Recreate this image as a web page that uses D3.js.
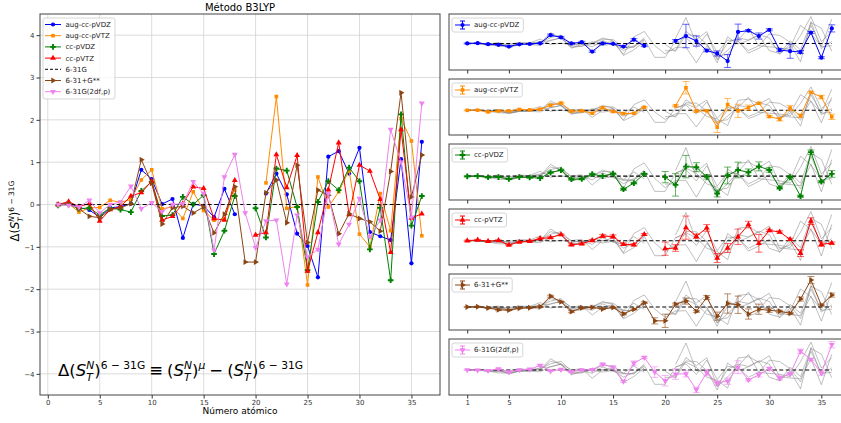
<!DOCTYPE html>
<html>
<head>
<meta charset="utf-8">
<script src="https://cdn.jsdelivr.net/npm/d3@7"></script>
<style>
  body { margin: 0; background: #fff; }
  text { font-family: "DejaVu Sans", sans-serif; }
</style>
</head>
<body>
<script>
(function(d3) {
  "use strict";

  /***** Data *****/
  var atomicNumber = [1, 2, 3, 4, 5, 6, 7, 8, 9, 10, 11, 12, 13, 14, 15, 16, 17, 18,
    19, 20, 21, 22, 23, 24, 25, 26, 27, 28, 29, 30, 31, 32, 33, 34, 35, 36];

  var augccpVDZ = [0, 0.03, -0.07, -0.13, -0.3, -0.08, -0.05, 0.02, 0.82, 0.6, 0.01, 0.13,
    -0.79, 0.01, -0.03, -0.3, 0.37, -0.23, null, null, 0.26, 0.73, 0.24, -0.69, -0.98, -1.72,
    1.13, 1.26, 0.73, 1.34, -0.65, -0.75, -0.84, 1.07, -1.39, 1.48];
  var augccpVTZ = [0, 0.02, -0.18, -0.08, -0.07, 0.1, 0.05, 0.12, 0.58, 0.82, -0.1, -0.06,
    -0.33, 0.3, -0.14, -0.37, -0.34, 0.34, null, null, 0.51, 2.55, -0.09, -0.05, -1.9, 0.65,
    -0.06, 0.3, 0.8, -0.7, -1.0, 0.26, -0.62, 2.03, 1.5, -0.74];
  var ccpVDZ = [-0.02, 0, -0.1, -0.08, -0.25, -0.08, -0.12, -0.18, 0.32, 0.54, -0.27, -0.25,
    0.18, 0, 0.22, -1.17, -0.62, 0.2, null, -0.09, -0.78, 0.85, 0.8, -0.06, -1.55, 0.06,
    0.55, 0.34, 0.87, 0.55, -1.06, -0.08, -1.79, 2.13, -0.5, 0.2];
  var ccpVTZ = [0, 0.07, -0.05, 0.02, -0.39, -0.12, -0.05, 0.2, 0.28, 0.55, -0.37, -0.28,
    0.02, 0.42, 0.38, -0.33, -0.37, 0.57, null, -0.72, -0.66, 1.18, 0.4, 1.16, -1.57, -0.66,
    0.35, 1.46, -0.24, 0.93, 0.79, 0.12, -1.13, 1.77, -0.32, -0.22];
  var b631G = [0, 0, 0, 0, 0, 0, 0, 0, 0, 0, 0, 0, 0, 0, 0, 0, 0, 0,
    0, 0, 0, 0, 0, 0, 0, 0, 0, 0, 0, 0, 0, 0, 0, 0, 0, 0];
  var b631pGss = [0, 0.02, -0.1, -0.28, -0.31, -0.12, -0.08, 0.02, 1.06, 0.5, -0.46, -0.08,
    -0.04, -0.2, -0.06, -0.67, -0.23, 0.42, -1.36, -1.36, 0.28, 0.58, -0.43, 0.93, -0.9, 0.34,
    0.22, -0.69, -0.22, -0.33, -0.41, -0.63, 0.78, 2.64, 0.18, 1.17];
  var b631G2dfp = [0, -0.02, -0.06, 0.1, -0.2, 0, 0.06, 0.43, -0.1, 0.04, -0.17, 0,
    0.02, 0.54, 0.26, -1.08, 0.65, 1.18, -0.2, -1.02, -0.39, -0.37, -1.88, -0.25, -1.24, -1.06,
    0.26, -0.94, -0.47, 0.14, -0.76, -0.37, 1.77, 1.0, -0.3, 2.39];

  // error bars (right-hand panels)
  var errAugccpVDZ = [0.05, 0.05, 0.05, 0.05, 0.05, 0.05, 0.05, 0.05, 0.1, 0.08, 0.08, 0.08,
    0.08, 0.08, 0.05, 0.08, 0.1, 0.08, null, null, 0.12, 1.15, 0.5, 0.12, 0.25, 0.63,
    0.77, 0.1, 0.3, 0.1, 0.15, 0.7, 0.15, 0.1, 0.1, 0.35];
  var errAugccpVTZ = [0.05, 0.05, 0.05, 0.05, 0.05, 0.05, 0.05, 0.08, 0.08, 0.08, 0.08, 0.08,
    0.08, 0.1, 0.08, 0.08, 0.05, 0.08, null, null, 0.1, 0.7, 0.1, 0.1, 0.6, 0.7,
    0.75, 0.3, 0.1, 0.1, 0.2, 0.3, 0.2, 0.1, 0.2, 0.3];
  var errCcpVDZ = [0.05, 0.05, 0.05, 0.05, 0.05, 0.05, 0.05, 0.05, 0.05, 0.08, 0.08, 0.08,
    0.08, 0.05, 0.05, 0.1, 0.08, 0.05, null, 0.5, 1.0, 1.0, 0.4, 0.2, 0.3, 0.75,
    0.7, 0.3, 0.4, 0.2, 0.1, 0.1, 0.1, 0.2, 0.1, 0.3];
  var errCcpVTZ = [0.05, 0.05, 0.05, 0.05, 0.05, 0.05, 0.05, 0.05, 0.08, 0.05, 0.08, 0.08,
    0.08, 0.15, 0.15, 0.1, 0.1, 0.08, null, 0.6, 0.3, 1.05, 0.2, 0.3, 0.4, 0.4,
    0.7, 0.3, 0.8, 0.1, 0.1, 0.1, 0.3, 0.3, 0.2, 0.1];
  var err631pGss = [0.05, 0.05, 0.05, 0.08, 0.05, 0.05, 0.05, 0.05, 0.1, 0.05, 0.1, 0.08,
    0.05, 0.05, 0.05, 0.1, 0.05, 0.08, 0.3, 0.65, 0.1, 0.3, 0.1, 0.2, 0.4, 0.95,
    0.85, 0.5, 0.5, 0.2, 0.1, 0.1, 0.2, 0.35, 0.1, 0.2];
  var err631G2dfp = [0.05, 0.05, 0.05, 0.05, 0.05, 0.05, 0.05, 0.08, 0.05, 0.05, 0.05, 0.05,
    0.05, 0.08, 0.08, 0.1, 0.2, 0.1, 0.5, 0.5, 0.5, 0.3, 0.25, 0.3, 0.2, 0.3,
    0.6, 0.1, 0.2, 0.1, 0.2, 0.1, 0.2, 0.1, 0.2, 0.3];

  var xTicksMain = [0, 5, 10, 15, 20, 25, 30, 35];
  var yTicksMain = [-4, -3, -2, -1, 0, 1, 2, 3, 4];
  var xTicksPanel = [1, 5, 10, 15, 20, 25, 30, 35];

  var series = [
    {name: "aug-cc-pVDZ", values: augccpVDZ, err: errAugccpVDZ, color: "#0000ff", marker: "o"},
    {name: "aug-cc-pVTZ", values: augccpVTZ, err: errAugccpVTZ, color: "#ff8c00", marker: "s"},
    {name: "cc-pVDZ", values: ccpVDZ, err: errCcpVDZ, color: "#008000", marker: "P"},
    {name: "cc-pVTZ", values: ccpVTZ, err: errCcpVTZ, color: "#ff0000", marker: "^"},
    {name: "6-31G", values: b631G, err: null, color: "#000000", marker: null},
    {name: "6-31+G**", values: b631pGss, err: err631pGss, color: "#8b4513", marker: ">"},
    {name: "6-31G(2df,p)", values: b631G2dfp, err: err631G2dfp, color: "#ee82ee", marker: "v"}
  ];
  series.forEach(function(s) {
    s.points = atomicNumber.map(function(n, i) { return [n, s.values[i], s.err ? s.err[i] : null]; });
  });

  /***** Helpers *****/
  var symbols = {
    "o": [d3.symbolCircle, 14, 0],
    "s": [d3.symbolSquare, 13, 0],
    "P": [d3.symbolCross, 18, 0],
    "^": [d3.symbolTriangle, 15, 0],
    ">": [d3.symbolTriangle, 15, 90],
    "v": [d3.symbolTriangle, 15, 180]
  };

  function drawMarkers(g, s, pts, x, y) {
    var sym = symbols[s.marker];
    g.selectAll(null)
      .data(pts.filter(function(d) { return d[1] != null; }))
      .enter().append("path")
      .attr("d", d3.symbol(sym[0], sym[1]))
      .attr("transform", function(d) { return "translate(" + x(d[0]) + "," + y(d[1]) + ") rotate(" + sym[2] + ")"; })
      .attr("fill", s.color);
  }

  // little mathtext: each piece is its own <text>, placed one after the other
  function mathText(g, tokens, size, gap) {
    var small = size * 0.65, cx = 0;
    function piece(str, fs, dy, italic) {
      var t = g.append("text").attr("x", cx).attr("y", dy)
        .attr("font-size", fs).attr("fill", "#000").text(str);
      if (italic) t.attr("font-style", "italic");
      return t.node().getComputedTextLength();
    }
    tokens.forEach(function(tok) {
      if (tok.gap) { cx += gap; return; }
      if (tok.stack) {
        var wa = piece(tok.stack[0], small, -size * 0.45, true);
        var wb = piece(tok.stack[1], small, size * 0.32, true);
        cx += Math.max(wa, wb);
      } else if (tok.sup) {
        cx += piece(tok.sup, small, -size * 0.45, tok.it);
      } else {
        cx += piece(tok.t, size, 0, tok.it);
      }
    });
    return cx;
  }

  var deltaS = [{t: "Δ("}, {t: "S", it: true}, {stack: ["N", "T"]}, {t: ")"}, {sup: "6 − 31G"}];
  var formula = deltaS.concat([{gap: 1}, {t: "≡"}, {gap: 1}, {t: "("}, {t: "S", it: true},
    {stack: ["N", "T"]}, {t: ")"}, {sup: "μ", it: true}, {gap: 1}, {t: "−"}, {gap: 1}, {t: "("},
    {t: "S", it: true}, {stack: ["N", "T"]}, {t: ")"}, {sup: "6 − 31G"}]);

  /***** SVG *****/
  var svg = d3.select("body").append("svg")
    .attr("width", 841)
    .attr("height", 423)
    .style("background", "#fff");

  /***** Main chart *****/
  var m = {left: 40, top: 14, right: 440, bottom: 395};
  var x = d3.scaleLinear().domain([-0.75, 37.75]).range([m.left, m.right]);
  var y = d3.scaleLinear().domain([-4.5, 4.5]).range([m.bottom, m.top]);

  svg.append("defs").append("clipPath").attr("id", "clip-main")
    .append("rect").attr("x", m.left).attr("y", m.top)
    .attr("width", m.right - m.left).attr("height", m.bottom - m.top);

  var mainG = svg.append("g");

  // grid
  mainG.selectAll(".gx").data(xTicksMain).enter().append("line")
    .attr("x1", x).attr("x2", x).attr("y1", m.top).attr("y2", m.bottom)
    .attr("stroke", "#d3d3d3").attr("stroke-width", 0.8);
  mainG.selectAll(".gy").data(yTicksMain).enter().append("line")
    .attr("y1", y).attr("y2", y).attr("x1", m.left).attr("x2", m.right)
    .attr("stroke", "#d3d3d3").attr("stroke-width", 0.8);

  var xAxis = mainG.append("g")
    .attr("transform", "translate(0," + m.bottom + ")")
    .call(d3.axisBottom(x).tickValues(xTicksMain).tickSize(3.5).tickPadding(2));
  var yAxis = mainG.append("g")
    .attr("transform", "translate(" + m.left + ",0)")
    .call(d3.axisLeft(y).tickValues(yTicksMain).tickSize(3.5).tickPadding(2));
  [xAxis, yAxis].forEach(function(a) {
    a.select(".domain").remove();
    a.selectAll("line").attr("stroke", "#333");
    a.selectAll("text").attr("font-size", 7).attr("fill", "#333").style("font-family", "DejaVu Sans");
  });

  var plot = mainG.append("g").attr("clip-path", "url(#clip-main)");
  var line = d3.line()
    .defined(function(d) { return d[1] != null; })
    .x(function(d) { return x(d[0]); })
    .y(function(d) { return y(d[1]); });

  series.forEach(function(s) {
    var p = plot.append("path").datum(s.points)
      .attr("d", line).attr("fill", "none")
      .attr("stroke", s.color).attr("stroke-width", 1);
    if (s.marker) drawMarkers(plot, s, s.points, x, y);
    else p.attr("stroke-dasharray", "4,2.5").attr("stroke-width", 1.1);
  });

  mainG.append("rect")
    .attr("x", m.left).attr("y", m.top)
    .attr("width", m.right - m.left).attr("height", m.bottom - m.top)
    .attr("fill", "none").attr("stroke", "#444").attr("stroke-width", 1);

  // legend
  var leg = mainG.append("g");
  leg.append("rect").attr("x", 43).attr("y", 18).attr("width", 72).attr("height", 81)
    .attr("rx", 2).attr("fill", "#fff").attr("fill-opacity", 0.8)
    .attr("stroke", "#ccc").attr("stroke-width", 0.8);
  series.forEach(function(s, i) {
    var ly = 24.5 + i * 11.2;
    var l = leg.append("line").attr("x1", 45).attr("x2", 61).attr("y1", ly).attr("y2", ly)
      .attr("stroke", s.color).attr("stroke-width", 1);
    if (s.marker) drawMarkers(leg, s, [[0, 0]], function() { return 53; }, function() { return ly; });
    else l.attr("stroke-dasharray", "3,2");
    leg.append("text").attr("x", 65.5).attr("y", ly).attr("dy", "0.35em")
      .attr("font-size", 7).attr("fill", "#222").text(s.name);
  });

  // title, labels, formula
  svg.append("text").attr("x", (m.left + m.right) / 2).attr("y", 11)
    .attr("text-anchor", "middle").attr("font-size", 10).text("Método B3LYP");
  svg.append("text").attr("x", (m.left + m.right) / 2).attr("y", 414)
    .attr("text-anchor", "middle").attr("font-size", 9).text("Número atómico");

  var yl = svg.append("g");
  var ylw = mathText(yl, deltaS, 11.5, 0);
  yl.attr("transform", "translate(19," + (211 + ylw / 2) + ") rotate(-90)");

  mathText(svg.append("g").attr("transform", "translate(58,376)"), formula, 16.5, 4);

  /***** Right-hand panels *****/
  var p = {left: 449, right: 850, top: 14, height: 56, step: 65};
  var px = d3.scaleLinear().domain([-0.75, 37.75]).range([p.left, p.right]);
  var others = series.filter(function(s) { return s.marker; });
  var allValues = [];
  others.forEach(function(s) { s.values.forEach(function(v) { if (v != null) allValues.push(v); }); });

  others.forEach(function(s, i) {
    var top = p.top + i * p.step, bottom = top + p.height;
    var lo = [], hi = [];
    s.points.forEach(function(d) {
      if (d[1] != null) { lo.push(d[1] - d[2]); hi.push(d[1] + d[2]); }
    });
    var ymin = d3.min(allValues.concat(lo)), ymax = d3.max(allValues.concat(hi));
    var pad = (ymax - ymin) * 0.05;
    var py = d3.scaleLinear().domain([ymin - pad, ymax + pad]).range([bottom, top]);

    var g = svg.append("g");
    var clipId = "clip-p" + i;
    g.append("clipPath").attr("id", clipId).append("rect")
      .attr("x", p.left).attr("y", top).attr("width", p.right - p.left).attr("height", p.height);

    var ax = g.append("g").attr("transform", "translate(0," + bottom + ")")
      .call(d3.axisBottom(px).tickValues(xTicksPanel).tickSize(3.5).tickPadding(2));
    ax.select(".domain").remove();
    ax.selectAll("line").attr("stroke", "#333");
    ax.selectAll("text").attr("font-size", 7).attr("fill", "#333").style("font-family", "DejaVu Sans");
    if (i < others.length - 1) ax.selectAll("text").remove();

    var pl = g.append("g").attr("clip-path", "url(#" + clipId + ")");
    var pline = d3.line()
      .defined(function(d) { return d[1] != null; })
      .x(function(d) { return px(d[0]); })
      .y(function(d) { return py(d[1]); });

    others.forEach(function(o) {
      if (o === s) return;
      pl.append("path").datum(o.points).attr("d", pline).attr("fill", "none")
        .attr("stroke", "#808080").attr("stroke-opacity", 0.5).attr("stroke-width", 1);
    });
    pl.append("path").datum(series[4].points).attr("d", pline).attr("fill", "none")
      .attr("stroke", "#000").attr("stroke-width", 1.1).attr("stroke-dasharray", "4,2.5");

    // error bars
    var eb = pl.selectAll(null)
      .data(s.points.filter(function(d) { return d[1] != null; }))
      .enter().append("g").attr("stroke", s.color).attr("stroke-opacity", 0.6).attr("stroke-width", 1);
    eb.append("line")
      .attr("x1", function(d) { return px(d[0]); }).attr("x2", function(d) { return px(d[0]); })
      .attr("y1", function(d) { return py(d[1] - d[2]); }).attr("y2", function(d) { return py(d[1] + d[2]); });
    eb.append("line")
      .attr("x1", function(d) { return px(d[0]) - 3.5; }).attr("x2", function(d) { return px(d[0]) + 3.5; })
      .attr("y1", function(d) { return py(d[1] - d[2]); }).attr("y2", function(d) { return py(d[1] - d[2]); });
    eb.append("line")
      .attr("x1", function(d) { return px(d[0]) - 3.5; }).attr("x2", function(d) { return px(d[0]) + 3.5; })
      .attr("y1", function(d) { return py(d[1] + d[2]); }).attr("y2", function(d) { return py(d[1] + d[2]); });

    pl.append("path").datum(s.points).attr("d", pline).attr("fill", "none")
      .attr("stroke", s.color).attr("stroke-width", 1);
    drawMarkers(pl, s, s.points, px, py);

    g.append("rect").attr("x", p.left).attr("y", top)
      .attr("width", p.right - p.left).attr("height", p.height)
      .attr("fill", "none").attr("stroke", "#444").attr("stroke-width", 1);

    // legend
    var lg = g.append("g");
    var box = lg.append("rect").attr("x", 452).attr("y", top + 4).attr("height", 14)
      .attr("rx", 2).attr("fill", "#fff").attr("fill-opacity", 0.8)
      .attr("stroke", "#ccc").attr("stroke-width", 0.8);
    var cy = top + 11;
    lg.append("line").attr("x1", 455).attr("x2", 470).attr("y1", cy).attr("y2", cy)
      .attr("stroke", s.color).attr("stroke-width", 1);
    lg.append("line").attr("x1", 462.5).attr("x2", 462.5).attr("y1", cy - 4).attr("y2", cy + 4)
      .attr("stroke", s.color).attr("stroke-width", 1);
    [cy - 4, cy + 4].forEach(function(c) {
      lg.append("line").attr("x1", 460).attr("x2", 465).attr("y1", c).attr("y2", c)
        .attr("stroke", s.color).attr("stroke-width", 1);
    });
    drawMarkers(lg, s, [[0, 0]], function() { return 462.5; }, function() { return cy; });
    var lt = lg.append("text").attr("x", 474).attr("y", cy).attr("dy", "0.35em")
      .attr("font-size", 7).attr("fill", "#222").text(s.name);
    box.attr("width", 474 - 452 + lt.node().getComputedTextLength() + 4);
  });
})(d3);
</script>
</body>
</html>
